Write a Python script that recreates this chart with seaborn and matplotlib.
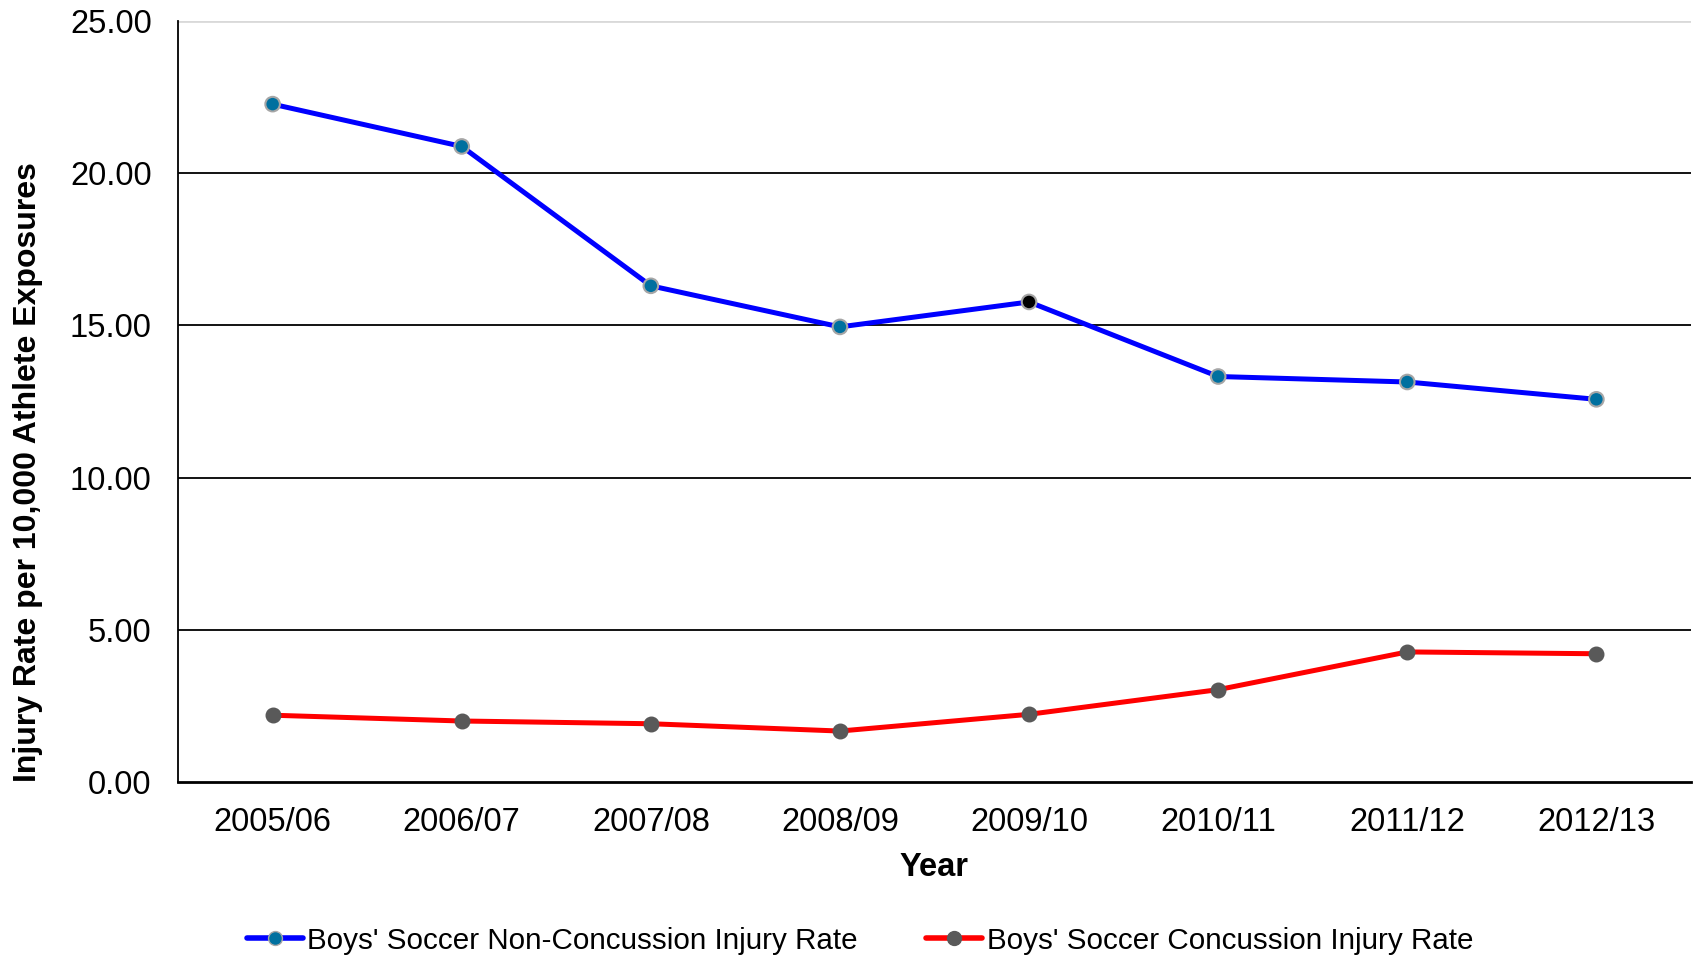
import pandas as pd
import numpy as np
import matplotlib.pyplot as plt
import seaborn as sns
from matplotlib.lines import Line2D

years = ['2005/06', '2006/07', '2007/08', '2008/09', '2009/10', '2010/11', '2011/12', '2012/13']
non_concussion = [22.27, 20.88, 16.30, 14.95, 15.77, 13.32, 13.14, 12.57]
concussion = [2.19, 2.00, 1.91, 1.67, 2.22, 3.03, 4.27, 4.21]
nc_marker_kind = ['teal', 'teal', 'teal', 'teal', 'black', 'teal', 'teal', 'teal']

nc_label = "Boys' Soccer Non-Concussion Injury Rate"
c_label = "Boys' Soccer Concussion Injury Rate"

df = pd.DataFrame({'year': years, 'pos': np.arange(len(years)),
                   'nc': non_concussion, 'c': concussion, 'kind': nc_marker_kind})

sns.set_style('white')
plt.rcParams['font.family'] = ['Liberation Sans', 'DejaVu Sans']
plt.rcParams['text.color'] = 'black'
plt.rcParams['axes.labelcolor'] = 'black'
plt.rcParams['xtick.color'] = 'black'
plt.rcParams['ytick.color'] = 'black'

fig = plt.figure(figsize=(16.96, 9.57), dpi=100)
ax = fig.add_axes([0.105, 0.183, 0.892, 0.795])

# lines
sns.lineplot(data=df, x='pos', y='nc', color='#0000FF', linewidth=3.6, ax=ax)
sns.lineplot(data=df, x='pos', y='c', color='#FF0000', linewidth=3.6, ax=ax)

# markers
sns.scatterplot(data=df, x='pos', y='nc', hue='kind',
                palette={'teal': '#00709F', 'black': '#000000'},
                s=110, edgecolor='#A6A6A6', linewidth=1.5, legend=False, zorder=5, ax=ax)
sns.scatterplot(data=df, x='pos', y='c', color='#595959',
                s=110, edgecolor='#595959', linewidth=1, legend=False, zorder=5, ax=ax)

ax.set_xlim(-0.5, len(years) - 0.5)
ax.set_ylim(0, 25)
ax.set_yticks(np.arange(0, 26, 5))
ax.set_yticklabels([f'{v:.2f}' for v in np.arange(0, 26, 5)])
ax.set_xticks(df['pos'])
ax.set_xticklabels(years)
ax.tick_params(axis='both', labelsize=23.5, length=0)
ax.tick_params(axis='x', pad=18)
ax.tick_params(axis='y', pad=19)

for v in [5, 10, 15, 20]:
    ax.axhline(v, color='black', linewidth=1.3, zorder=0)
ax.axhline(25, color='#D9D9D9', linewidth=2, zorder=0)

for s in ['top', 'right']:
    ax.spines[s].set_visible(False)
ax.spines['left'].set_color('black')
ax.spines['left'].set_linewidth(1.3)
ax.spines['bottom'].set_color('black')
ax.spines['bottom'].set_linewidth(2)

ax.set_xlabel('Year', fontsize=23.5, fontweight='bold', labelpad=10)
ax.set_ylabel('Injury Rate per 10,000 Athlete Exposures', fontsize=23, fontweight='bold')
ax.yaxis.set_label_coords(-0.089, 0.407)

handles = [
    Line2D([], [], color='#0000FF', linewidth=4, marker='o', markersize=10,
           markerfacecolor='#00709F', markeredgecolor='#A6A6A6'),
    Line2D([], [], color='#FF0000', linewidth=4, marker='o', markersize=10,
           markerfacecolor='#595959', markeredgecolor='#595959'),
]
fig.legend(handles, [nc_label, c_label], loc='center', bbox_to_anchor=(0.507, 0.017),
           ncol=2, frameon=False, fontsize=21.3, handlelength=1.9, handletextpad=0.15,
           columnspacing=2.3)

fig.savefig('out.png', dpi=100)
plt.close()
